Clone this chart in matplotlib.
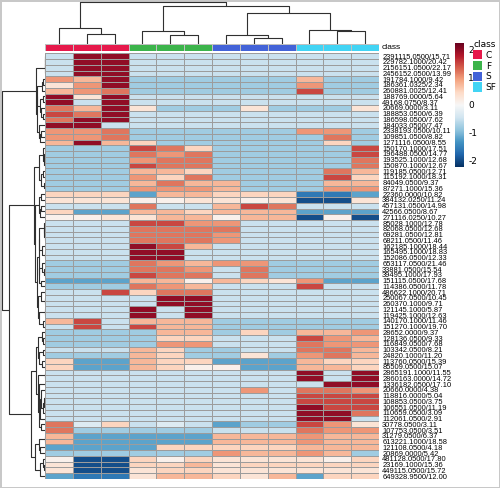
import numpy as np
import matplotlib
matplotlib.use("Agg")
import matplotlib.pyplot as plt
from matplotlib.colors import ListedColormap
from matplotlib.patches import Patch

plt.rcParams["axes.unicode_minus"] = False

W, H = 500, 488

classes = ["C", "F", "S", "SF"]
class_colors = ["#e6194b", "#3cb44b", "#4363d8", "#42d4f4"]
sample_class = [0, 0, 0, 1, 1, 1, 2, 2, 2, 3, 3, 3]

# cell colour codes -> scaled value
code_value = {"D": 2.0, "K": 1.5, "R": 1.2, "r": 1.0, "s": 0.75, "l": 0.5, "p": 0.3, "w": 0.12,
              "v": -0.3, "b": -0.5, "m": -0.8, "M": -1.2, "B": -1.6, "N": -2.0}

rows_c = ["bDDbbbbbbbbb", "bDDbbbbbbbbb", "bDDbbbbbbbbb", "bDDbbbbbbbbb",
          "rsDmmmmmmsmm", "prDmmmmmmrmm", "srRmmmmmmKmm", "DpDbbbbbbbbb",
          "DbDbbbbbbbbb", "RsDpmmmpmmmp", "KRDbbbbbbbbb", "RDDbbbbbbbbb",
          "DDbbbbbbbbbb", "rrRmmmmmmrrm", "rrRmmmmmmmRm", "sDslmmmmmmlm",
          "mmmKRlmmmmmK", "mmmRrRmmmmmK", "mmmrRRmmmmmR", "mmmKRRmmmmmR",
          "mmmsslmmmmRs", "mmmrlRmmmmKl", "mmmsRssmmmss", "mmmrrrsmmmrr",
          "lllMsslllBBM", "pppwwppwpNNp", "bbbRbbsKRbbb", "lMMsslsssMMM",
          "wwppsswssNwN", "bbbKKrrbbbbb", "bbbRRRRbbbbb", "bbbRRRrbbbbb",
          "bbbRRRrbbbbb", "bbbDKsbbbbbb", "bbbDDbbbbbbb", "bbbDDbbbbbbb",
          "mmmRrsrrmmmm", "mmmRRrbRmmmm", "mmmKRRbRmmmm", "MMMsswslprMM",
          "mmmRrsbbbKbb", "bbKlRRbbbbbb", "bbbbDDbbbbbb", "bbbbDDbbbbbb",
          "bbbDbDbbbbbb", "bbbDbDbbbbbb", "sKbsssmmmmmm", "bKbKssmmmmmm",
          "mmmmssmlmssr", "mmmmllbbbKrs", "mmmmrrbbbRrr", "bbbslmmbbRRs",
          "mmmslmmpmrRs", "lMMsllMMMsll", "lMMslwwMMssl", "bbbbbbbbbDbD",
          "bbbbbbbbbDbD", "bbbbbbbbbbDD", "bbbbbbbrbRRr", "bbbbbbbbbKKK",
          "bbbbbbbbbKKK", "bbbbbbbbbDKK", "bbbbbbbbbDDR", "bbbbbbbbbDDb",
          "RvlbvbMmmKrp", "RmmmmmbbbRrr", "sMMMMMsssrss", "sMMMMMsssrss",
          "MMMMlllllsss", "mmmmmmrssrsm", "wNNlwlppppwl", "pNNllsplllll",
          "pNNpllpppppp", "MBBpsslpsMll"]

row_labels = ["2391115.0500/15.71", "229782.1000/20.42", "2156151.0500/22.17", "2456152.0500/13.99",
              "191784.1000/9.42", "186361.0325/2.34", "260881.0025/12.41", "188769.0000/5.64",
              "49168.0750/8.37", "20669.0000/3.11", "188853.0500/6.39", "186598.0500/7.62",
              "184033.0500/7.47", "2338193.0500/10.11", "109851.0500/8.82", "1271116.0500/8.55",
              "150170.1000/17.51", "196488.0500/14.77", "193525.1000/12.68", "150870.1000/12.67",
              "119185.0500/12.71", "115192.1000/18.31", "84049.0500/9.37", "87271.1000/15.36",
              "22360.0000/10.82", "384132.0250/11.24", "457131.0500/14.98", "42566.0500/8.67",
              "271116.0250/10.27", "85028.1000/12.78", "82068.0500/12.68", "69281.0500/12.81",
              "68211.0500/11.46", "162185.1000/18.44", "165495.1000/18.83", "152086.0500/12.33",
              "653117.0500/21.46", "33881.0500/15.54", "39495.1000/17.93", "151115.0500/17.68",
              "114386.0500/11.78", "486622.1000/20.71", "250067.0500/10.45", "260370.1000/9.71",
              "121145.1000/5.87", "119425.1000/12.63", "140170.1000/11.46", "151270.1000/19.70",
              "28652.0000/9.37", "128136.0500/9.33", "116849.0500/7.68", "103342.0500/8.21",
              "24820.1000/11.20", "113760.0500/15.39", "85509.0500/15.07", "2865191.1000/11.55",
              "2860163.0000/14.72", "1336182.0500/17.10", "20660.0000/4.38", "118816.0000/5.04",
              "108853.0500/3.75", "106551.0500/11.19", "110659.0500/3.09", "112061.0500/2.91",
              "30778.0500/3.11", "107753.0500/3.51", "31279.0500/6.37", "613221.1000/18.58",
              "121108.0500/4.18", "20869.0000/5.42", "481128.0500/17.80", "23169.1000/15.36",
              "449115.0500/15.72", "649328.9500/12.00"]

# column tree: (left node, right node, merge height in px), leaves are 0..11
col_merge = [(1, 2, 9.7), (0, 12, 15.3), (4, 5, 8.7), (3, 14, 12.3), (7, 8, 5.7), (6, 16, 8.7),
             (10, 11, 13.0), (9, 18, 14.0), (17, 19, 30.7), (15, 20, 37.3), (13, 21, 41.3)]

# row tree: main blocks (first row, end row, height px), then how the blocks join
row_blocks = [(0, 16, 9.0), (16, 48, 10.7), (48, 74, 14.0)]
row_top = [(1, 2, 35.7), (0, 3, 42.3)]

ticks_cb = [-2, -1, 0, 1, 2]


def px_rect(x0, y0, x1, y1):
    """ figure rectangle from pixel box (origin top left) """
    return [x0 / W, 1 - y1 / H, (x1 - x0) / W, (y1 - y0) / H]


def merge_links(merges, pos, hgt):
    """ turn (a, b, height) merges into drawable links, new nodes get the next index """
    pos, hgt = dict(pos), dict(hgt)
    links = []
    nxt = len(pos)
    for a, b, h in merges:
        links.append((pos[a], hgt[a], pos[b], hgt[b], h))
        pos[nxt] = (pos[a] + pos[b]) / 2
        hgt[nxt] = h
        nxt += 1
    return links


def chain_ward(data, offset=0):
    """ ward clustering where only neighbouring rows merge, so the row order is kept """
    nodes = [{"pos": offset + i + 0.5, "h": 0.0, "n": 1, "c": data[i].astype(float)}
             for i in range(len(data))]
    links = []
    while len(nodes) > 1:
        best = None
        for i in range(len(nodes) - 1):
            a, b = nodes[i], nodes[i + 1]
            d = np.sqrt(2 * a["n"] * b["n"] / (a["n"] + b["n"])) * np.linalg.norm(a["c"] - b["c"])
            if best is None or d < best[0]:
                best = (d, i)
        d, i = best
        a, b = nodes[i], nodes[i + 1]
        h = max(d, a["h"], b["h"])
        links.append([a["pos"], a["h"], b["pos"], b["h"], h])
        n = a["n"] + b["n"]
        nodes[i:i + 2] = [{"pos": (a["pos"] + b["pos"]) / 2, "h": h, "n": n,
                           "c": (a["c"] * a["n"] + b["c"] * b["n"]) / n}]
    return links, nodes[0]["pos"]


def draw_tree(ax, links, vertical=False):
    for p1, h1, p2, h2, h in links:
        ps = [p1, p1, p2, p2]
        hs = [h1, h, h, h2]
        if vertical:
            ax.plot(hs, ps, color="#303030", lw=0.8, solid_capstyle="butt")
        else:
            ax.plot(ps, hs, color="#303030", lw=0.8, solid_capstyle="butt")


values = np.array([[code_value[c] for c in row] for row in rows_c])
n_rows, n_cols = values.shape

fig = plt.figure(figsize=(W / 100, H / 100), dpi=100)
fig.patch.set_edgecolor("#c8c8c8")
fig.patch.set_linewidth(1.0)

label_font = ["Liberation Sans", "DejaVu Sans"]

# heatmap
ax = fig.add_axes(px_rect(45, 53.3, 379, 479))
mesh = ax.pcolormesh(values, cmap="RdBu_r", vmin=-2.25, vmax=2.25,
                     edgecolors="#9c9c9c", linewidth=0.6)
ax.set_xlim(0, n_cols)
ax.set_ylim(n_rows, 0)
ax.set_xticks([])
ax.yaxis.tick_right()
ax.set_yticks(np.arange(n_rows) + 0.5)
ax.set_yticklabels(row_labels, fontsize=5.4, family=label_font)
ax.tick_params(axis="y", length=0, pad=2.3)
for sp in ax.spines.values():
    sp.set_visible(False)

# class bar
axc = fig.add_axes(px_rect(45, 44, 379, 50.5))
axc.pcolormesh(np.array([sample_class]), cmap=ListedColormap(class_colors), vmin=-0.5, vmax=3.5,
               edgecolors="#c0c0c0", linewidth=0.5)
axc.set_xlim(0, n_cols)
axc.axis("off")
fig.text(382 / W, 1 - 47.5 / H, "class", fontsize=6, family=label_font, va="center", ha="left")

# column dendrogram
axt = fig.add_axes(px_rect(45, 1, 379, 43.5))
col_links = merge_links(col_merge, {i: i + 0.5 for i in range(n_cols)}, {i: 0.0 for i in range(n_cols)})
draw_tree(axt, col_links)
axt.set_xlim(0, n_cols)
axt.set_ylim(0, 42.5)
axt.axis("off")

# row dendrogram: ward inside each block, block joins
axl = fig.add_axes(px_rect(0.5, 53.3, 44.5, 479))
row_links = []
block_pos = {}
for k, (s, e, bh) in enumerate(row_blocks):
    links, root = chain_ward(values[s:e], offset=s)
    scale = bh / links[-1][4]
    for l in links:
        l[1] *= scale
        l[3] *= scale
        l[4] *= scale
    row_links += links
    block_pos[k] = root
row_links += merge_links(row_top, block_pos, {k: b[2] for k, b in enumerate(row_blocks)})
draw_tree(axl, row_links, vertical=True)
axl.set_ylim(n_rows, 0)
axl.set_xlim(44, 0)
axl.axis("off")

# colour key
cax = fig.add_axes(px_rect(455, 43, 464, 167))
cb = fig.colorbar(mesh, cax=cax, ticks=ticks_cb)
cb.outline.set_visible(False)
cb.ax.tick_params(length=0, pad=3, labelsize=6.5)

handles = [Patch(facecolor=c, edgecolor="none") for c in class_colors]
leg = fig.legend(handles, classes, title="class", loc="upper left",
                 bbox_to_anchor=(473 / W, 1 - 40 / H), frameon=False, fontsize=6.5,
                 title_fontsize=6.5, handlelength=1.0, handleheight=1.2, handletextpad=0.4,
                 labelspacing=0.12, borderaxespad=0, borderpad=0)
leg._legend_box.align = "left"

fig.savefig("out.png", dpi=100)
